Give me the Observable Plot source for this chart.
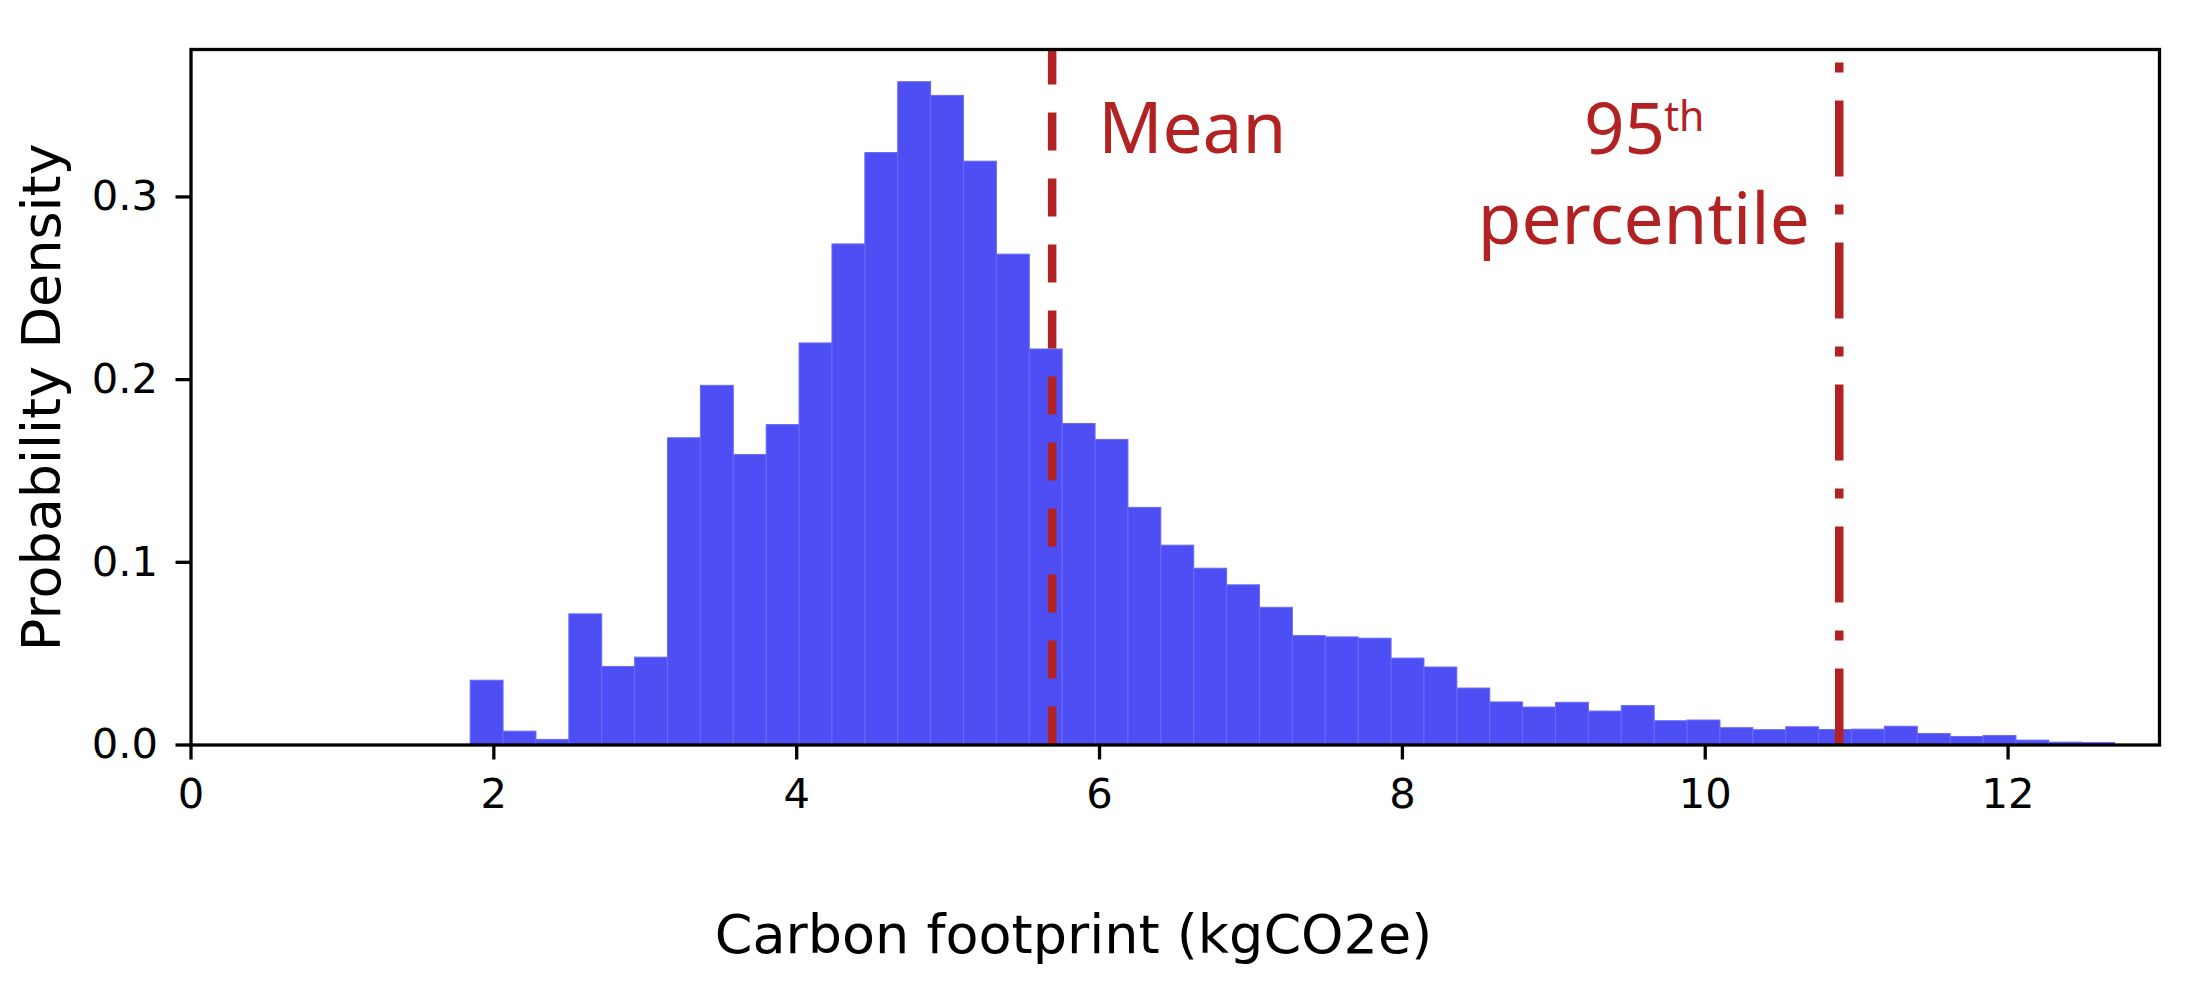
<!DOCTYPE html>
<html>
<head>
<meta charset="utf-8">
<script src="https://cdn.jsdelivr.net/npm/d3@7"></script>
<script src="https://cdn.jsdelivr.net/npm/@observablehq/plot@0.6"></script>
<style>
  html, body { margin: 0; padding: 0; background: #fff; }
  #chart svg { display: block; }
</style>
</head>
<body>
<div id="chart"></div>
<script>
// Histogram: 50 equal bins between binMin and binMax (kgCO2e), density values
const binMin = 1.847;
const binMax = 12.707;
const density = [
  0.0352, 0.0073, 0.0028, 0.0715, 0.0427, 0.0478, 0.1679, 0.1966, 0.1587, 0.1751,
  0.2198, 0.2740, 0.3240, 0.3628, 0.3553, 0.3193, 0.2684, 0.2165, 0.1757, 0.1670,
  0.1298, 0.1091, 0.0965, 0.0874, 0.0751, 0.0596, 0.0589, 0.0582, 0.0473, 0.0424,
  0.0309, 0.0233, 0.0205, 0.0231, 0.0183, 0.0213, 0.0130, 0.0134, 0.0092, 0.0081,
  0.0097, 0.0082, 0.0084, 0.0100, 0.0060, 0.0044, 0.0049, 0.0024, 0.0013, 0.0011
];
const meanValue = 5.687;
const p95Value = 10.885;
const xTicks = [0, 2, 4, 6, 8, 10, 12];
const yTicks = [0, 0.1, 0.2, 0.3];
const xDomain = [0, 13];
const yDomain = [0, 0.3807];
const xLabel = "Carbon footprint (kgCO2e)";
const yLabel = "Probability Density";
const meanLabel = "Mean";
const p95Main = "95";
const p95Sup = "th";
const p95Line2 = "percentile";

const binWidth = (binMax - binMin) / density.length;
const bars = density.map((d, i) => ({
  x1: binMin + i * binWidth,
  x2: binMin + (i + 1) * binWidth,
  y: d
}));

const red = "#b22222";
const barFill = "#4e4ef5";

const chart = Plot.plot({
  width: 2202,
  height: 1002,
  marginLeft: 190.5,
  marginRight: 43,
  marginTop: 49,
  marginBottom: 257.5,
  style: { fontFamily: "DejaVu Sans", background: "#fff", color: "black" },
  x: { domain: xDomain },
  y: { domain: yDomain },
  marks: [
    Plot.rectY(bars, { x1: "x1", x2: "x2", y: "y", fill: barFill, stroke: "#6a6af7", strokeWidth: 1, inset: 0 }),
    Plot.ruleX([meanValue], { x: d => d, y1: 0, y2: yDomain[1], stroke: red, strokeWidth: 8.5, strokeDasharray: "38,28" }),
    Plot.ruleX([p95Value], { x: d => d, y1: 0, y2: yDomain[1], stroke: red, strokeWidth: 8.5, strokeDasharray: "76,28,10,28" }),
    Plot.frame({ stroke: "black", strokeWidth: 3.3 }),
    Plot.axisX({ ticks: xTicks, tickSize: 15, tickPadding: 18, fontSize: 41.67, strokeWidth: 3.3, tickFormat: d => String(d), label: null }),
    Plot.axisY({ ticks: yTicks, tickSize: 15, tickPadding: 18, fontSize: 41.67, strokeWidth: 3.3, tickFormat: d3.format(".1f"), label: null }),
    Plot.text([yLabel], { frameAnchor: "left", rotate: -90, lineAnchor: "bottom", textAnchor: "middle", dx: -131.5, fontSize: 54, fill: "black" }),
    Plot.text([xLabel], { frameAnchor: "bottom", lineAnchor: "bottom", textAnchor: "middle", dx: -101.75, dy: 207.5, fontSize: 54, fill: "black" }),
    Plot.text([meanValue], { x: d => d, text: () => meanLabel, frameAnchor: "top", lineAnchor: "bottom", textAnchor: "start", dx: 46, dy: 103, fontSize: 71, fontFamily: "Noto Sans", fill: red }),
    Plot.text([p95Value], { x: d => d, text: () => p95Main, frameAnchor: "top", lineAnchor: "bottom", textAnchor: "end", dx: -174, dy: 104, fontSize: 71, fontFamily: "Noto Sans", fill: red }),
    Plot.text([p95Value], { x: d => d, text: () => p95Sup, frameAnchor: "top", lineAnchor: "bottom", textAnchor: "start", dx: -175, dy: 81, fontSize: 41, fontFamily: "Noto Sans", fill: red }),
    Plot.text([p95Value], { x: d => d, text: () => p95Line2, frameAnchor: "top", lineAnchor: "bottom", textAnchor: "middle", dx: -195.5, dy: 194, fontSize: 71, fontFamily: "Noto Sans", fill: red })
  ]
});
document.getElementById("chart").appendChild(chart);
</script>
</body>
</html>
